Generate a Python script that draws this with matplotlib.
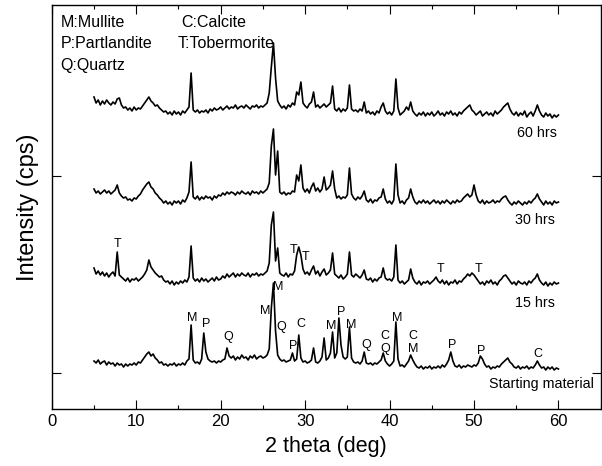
# difractogramas XRD del material de partida y de las muestras a 15, 30 y 60 hrs
import numpy as np
import matplotlib
matplotlib.use('Agg')
import matplotlib.pyplot as plt
from matplotlib.ticker import MultipleLocator

plt.rcParams['font.family'] = ['Liberation Sans', 'DejaVu Sans']

# datos: 2 theta de 5 a 60 con paso de 0.25
inicio = 5.0
paso = 0.25

starting = [
    12, 10, 13, 9, 11, 12, 8, 11, 9, 10, 7, 10, 8, 9, 6, 9, 7, 9, 8, 10,
    8, 11, 10, 13, 16, 19, 21, 17, 19, 15, 13, 10, 11, 8, 9, 7, 9, 8, 10, 7,
    9, 8, 10, 8, 12, 14, 48, 13, 10, 11, 9, 14, 40, 21, 14, 12, 11, 12, 10, 12,
    11, 13, 14, 25, 17, 15, 17, 13, 16, 14, 18, 15, 16, 13, 17, 15, 18, 14, 16, 17,
    15, 16, 18, 24, 65, 90, 42, 18, 14, 12, 13, 11, 12, 13, 20, 12, 14, 38, 15, 11,
    12, 10, 11, 13, 25, 11, 10, 12, 16, 35, 13, 15, 20, 41, 15, 20, 55, 28, 16, 14,
    16, 46, 15, 11, 10, 11, 9, 12, 21, 10, 9, 10, 8, 10, 9, 11, 13, 20, 12, 9,
    7, 9, 12, 51, 14, 7, 8, 6, 9, 12, 18, 13, 9, 6, 5, 7, 4, 6, 5, 7,
    4, 6, 5, 7, 5, 8, 6, 9, 13, 21, 12, 7, 6, 8, 5, 7, 6, 8, 7, 6,
    8, 7, 10, 17, 14, 9, 6, 7, 4, 6, 5, 7, 6, 9, 11, 13, 15, 11, 9, 6,
    5, 7, 4, 6, 5, 7, 4, 6, 5, 8, 12, 8, 5, 6, 3, 6, 4, 6, 3, 5,
    4]

hrs15 = [
    105, 99, 102, 98, 101, 97, 100, 96, 99, 101, 97, 121, 98, 96, 94, 92, 95, 91, 94, 93,
    95, 92, 94, 96, 99, 103, 113, 106, 103, 100, 98, 96, 97, 93, 91, 92, 89, 92, 88, 91,
    89, 92, 90, 93, 91, 96, 127, 95, 92, 94, 91, 95, 92, 94, 91, 93, 95, 92, 96, 93,
    94, 97, 95, 99, 96, 98, 100, 96, 99, 97, 100, 98, 97, 100, 96, 99, 98, 100, 97, 99,
    98, 100, 102, 110, 148, 161, 112, 125, 100, 98, 97, 100, 96, 99, 98, 102, 118, 126, 118, 104,
    99, 101, 98, 103, 107, 99, 102, 97, 101, 104, 98, 100, 103, 120, 99, 97, 95, 98, 94, 96,
    99, 121, 98, 96, 99, 97, 95, 98, 103, 94, 93, 95, 91, 94, 92, 95, 96, 105, 95, 93,
    94, 92, 96, 128, 93, 90, 92, 89, 91, 93, 104, 95, 91, 89, 92, 88, 91, 90, 92, 89,
    91, 93, 96, 92, 90, 93, 89, 92, 88, 91, 90, 93, 89, 92, 91, 94, 96, 99, 97, 100,
    98, 95, 92, 89, 91, 88, 92, 90, 93, 89, 91, 88, 92, 94, 97, 98, 95, 92, 89, 91,
    88, 92, 90, 89, 91, 88, 92, 90, 93, 95, 99, 93, 90, 88, 91, 87, 90, 88, 91, 89,
    90]

hrs30 = [
    184, 180, 182, 179, 181, 183, 180, 182, 179, 181, 183, 188, 180, 177, 175, 176, 173, 174, 172, 175,
    174, 177, 179, 183, 186, 189, 191, 186, 184, 180, 178, 175, 173, 170, 172, 169, 171, 168, 172, 170,
    172, 169, 173, 171, 175, 181, 211, 176, 174, 177, 173, 176, 174, 177, 175, 176, 173, 177, 175, 178,
    177, 180, 178, 181, 179, 181, 180, 178, 181, 179, 182, 180, 179, 181, 178, 182, 180, 181, 179, 182,
    180, 182, 184, 190, 227, 244, 198, 222, 181, 179, 181, 178, 180, 179, 182, 181, 198, 192, 208, 185,
    181, 184, 180, 186, 190, 182, 185, 181, 184, 196, 183, 185, 188, 202, 184, 175, 177, 174, 176, 175,
    178, 205, 179, 175, 173, 176, 174, 177, 182, 173, 171, 174, 170, 173, 172, 175, 176, 184, 174, 170,
    172, 169, 173, 209, 178, 170, 172, 169, 173, 175, 184, 176, 171, 169, 172, 170, 173, 170, 172, 169,
    171, 173, 170, 172, 169, 172, 170, 173, 171, 169, 172, 170, 173, 171, 172, 175, 177, 179, 176, 178,
    188, 178, 172, 170, 173, 169, 172, 170, 171, 173, 170, 172, 171, 174, 176, 177, 173, 170, 168, 171,
    169, 172, 170, 168, 171, 169, 172, 170, 173, 175, 179, 174, 171, 168, 172, 169, 171, 168, 172, 170,
    171]

hrs60 = [
    276, 270, 273, 268, 272, 269, 273, 270, 268, 271, 269, 274, 275, 268, 265, 266, 263, 265, 262, 266,
    263, 265, 264, 267, 270, 273, 276, 272, 270, 267, 268, 265, 263, 261, 262, 259, 261, 258, 262, 259,
    261, 258, 262, 260, 263, 266, 300, 263, 261, 263, 260, 262, 261, 263, 260, 264, 262, 265, 263, 264,
    266, 263, 265, 267, 264, 266, 265, 268, 264, 266, 267, 265, 268, 266, 264, 267, 266, 268, 265, 267,
    266, 268, 270, 280, 306, 330, 295, 272, 268, 265, 267, 264, 268, 266, 270, 268, 281, 278, 291, 270,
    267, 265, 269, 271, 281, 266, 268, 265, 267, 269, 266, 268, 270, 287, 264, 262, 265, 261, 264, 262,
    265, 288, 264, 262, 263, 261, 264, 262, 271, 260, 262, 259, 261, 258, 262, 260, 266, 270, 262, 259,
    261, 258, 262, 294, 265, 258, 260, 262, 266, 263, 271, 262, 259, 257, 260, 258, 261, 257, 260, 258,
    261, 257, 259, 262, 258, 260, 257, 261, 259, 262, 258, 260, 257, 261, 259, 262, 264, 266, 268, 263,
    261, 258, 260, 262, 257, 259, 261, 258, 260, 257, 262, 259, 261, 263, 266, 268, 270, 264, 260, 258,
    261, 257, 260, 258, 262, 256, 259, 261, 257, 262, 268, 262, 258, 256, 260, 257, 259, 255, 258, 256,
    258]

# letras de identificacion de fases
letras_start = ['M', 'P', 'Q', 'M', 'M', 'Q', 'P', 'C', 'M', 'P',
                'M', 'Q', 'C', 'Q', 'M', 'C', 'M', 'P', 'P', 'C']
x_start = [16.6, 18.3, 20.9, 25.3, 26.8, 27.2, 28.6, 29.5, 33.1, 34.3,
           35.5, 37.2, 39.5, 39.5, 40.9, 42.8, 42.8, 47.4, 50.9, 57.6]
y_start = [52, 46, 33, 59, 83, 43, 24, 46, 44, 58,
           45, 25, 34, 21, 52, 34, 21, 25, 19, 16]

letras_15 = ['T', 'T', 'T', 'T', 'T']
x_15 = [7.8, 28.6, 30.1, 46.0, 50.5]
y_15 = [126, 120, 113, 101, 101]

leyenda = ['M:Mullite', 'P:Partlandite', 'Q:Quartz', 'C:Calcite', 'T:Tobermorite']


fig = plt.figure(figsize=(6.02, 4.66), dpi=100)
ax = fig.add_axes([0.086, 0.1223, 0.9118, 0.867])

for serie in [starting, hrs15, hrs30, hrs60]:
    tt = inicio + paso * np.arange(len(serie))
    ax.plot(tt, serie, color='black', lw=1.2)

ax.set_xlim(0, 65)
ax.set_ylim(-36, 368)

ax.xaxis.set_major_locator(MultipleLocator(10))
ax.xaxis.set_minor_locator(MultipleLocator(5))
ax.set_yticks([0, 197])
ax.set_yticklabels([])
ax.tick_params(which='both', direction='in', top=True, right=True, width=0.8, labelsize=12)
ax.tick_params(which='major', length=6.3)
ax.tick_params(which='minor', length=3.1)
for spine in ax.spines.values():
    spine.set_linewidth(1.0)

ax.set_xlabel('2 theta (deg)', fontsize=15.5, labelpad=5)
ax.set_ylabel('Intensity (cps)', fontsize=17, labelpad=6)

# nombres de cada difractograma
ax.text(59.8, 236, '60 hrs', ha='right', fontsize=10.3)
ax.text(59.6, 149, '30 hrs', ha='right', fontsize=10.3)
ax.text(59.6, 66, '15 hrs', ha='right', fontsize=10.3)
ax.text(64.2, -15, 'Starting material', ha='right', fontsize=10.3)

for l, x, y in zip(letras_start, x_start, y_start):
    ax.text(x, y, l, ha='center', fontsize=9)
for l, x, y in zip(letras_15, x_15, y_15):
    ax.text(x, y, l, ha='center', fontsize=9)

# leyenda de fases arriba a la izquierda
ax.text(1.06, 346, leyenda[0], fontsize=11.5)
ax.text(1.06, 325, leyenda[1], fontsize=11.5)
ax.text(1.06, 303, leyenda[2], fontsize=11.5)
ax.text(15.3, 346, leyenda[3], fontsize=11.5)
ax.text(14.9, 325, leyenda[4], fontsize=11.5)

plt.savefig('out.png', dpi=100)
